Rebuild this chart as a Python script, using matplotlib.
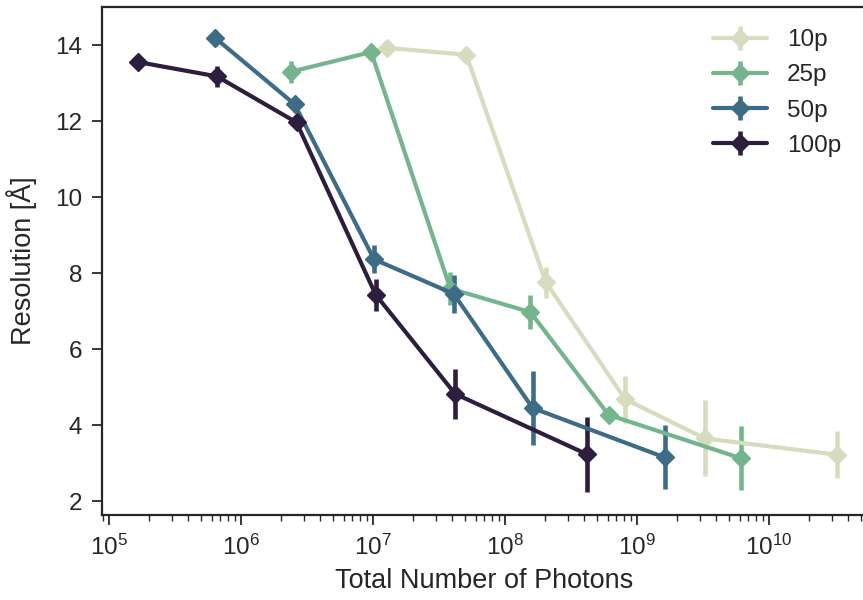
import numpy as np
import matplotlib
matplotlib.use("Agg")
import matplotlib.pyplot as plt
import seaborn as sns

sns.set_style("ticks")
plt.rcParams['font.family'] = ['Liberation Sans', 'DejaVu Sans']

# data
labels = ["10p", "25p", "50p", "100p"]
colors = ["#d6dcbe", "#74b58e", "#3e6c87", "#2d1e3e"]

photons_10p = [1.28e7, 5.1e7, 2.04e8, 8.15e8, 3.27e9, 3.28e10]
res_10p = [13.93, 13.75, 7.77, 4.69, 3.66, 3.23]
err_10p = [0.08, 0.08, 0.41, 0.62, 1.0, 0.62]

photons_25p = [2.38e6, 9.7e6, 3.86e7, 1.56e8, 6.1e8, 6.1e9]
res_25p = [13.30, 13.82, 7.60, 6.98, 4.28, 3.14]
err_25p = [0.29, 0.08, 0.44, 0.45, 0.08, 0.84]

photons_50p = [6.4e5, 2.55e6, 1.02e7, 4.1e7, 1.62e8, 1.62e9]
res_50p = [14.19, 12.45, 8.37, 7.46, 4.46, 3.16]
err_50p = [0.22, 0.2, 0.37, 0.5, 0.98, 0.84]

photons_100p = [1.65e5, 6.6e5, 2.64e6, 1.05e7, 4.2e7, 4.2e8]
res_100p = [13.56, 13.18, 11.97, 7.44, 4.83, 3.24]
err_100p = [0.05, 0.28, 0.1, 0.42, 0.65, 0.98]

xs = [photons_10p, photons_25p, photons_50p, photons_100p]
ys = [res_10p, res_25p, res_50p, res_100p]
es = [err_10p, err_25p, err_50p, err_100p]

fig = plt.figure(figsize=(8.63, 6.0), dpi=100)
ax = fig.add_axes([0.118, 0.142, 0.885, 0.846])

for x, y, e, c, lab in zip(xs, ys, es, colors, labels):
    ax.errorbar(x, y, yerr=e, color=c, lw=3, elinewidth=3.3, capsize=0,
                marker='D', markersize=9.5, label=lab)

ax.set_xscale('log')
ax.set_xlim(8.85e4, 5.4e10)
ax.set_ylim(1.65, 15.0)
ax.set_yticks([2, 4, 6, 8, 10, 12, 14])
ax.set_xlabel('Total Number of Photons', fontsize=19.5, labelpad=6)
ax.set_ylabel('Resolution [Å]', fontsize=19.5, labelpad=13)
ax.tick_params(axis='both', which='major', labelsize=17.5, length=7, width=1.3,
               pad=7, colors='#262626')
ax.tick_params(axis='x', which='minor', length=4, width=1.0, colors='#262626')
for s in ax.spines.values():
    s.set_linewidth(1.6)
    s.set_color('#262626')

ax.legend(loc='upper right', frameon=False, fontsize=17.5, handlelength=2.25,
          labelspacing=0.54, borderaxespad=0.3, bbox_to_anchor=(0.99, 0.99))

fig.savefig('out.png', dpi=100)
